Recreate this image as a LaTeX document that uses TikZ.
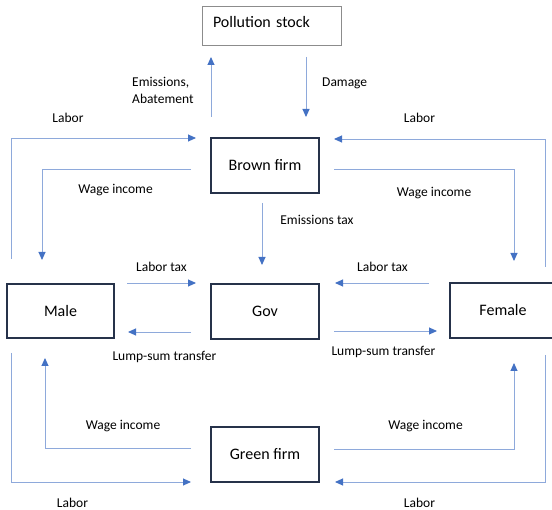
\documentclass[tikz,border=0pt]{standalone}
\usepackage{fontspec}
\setmainfont{Carlito}
\usetikzlibrary{arrows.meta}
\definecolor{linecol}{HTML}{8EA9DB}
\definecolor{tipcol}{HTML}{4472C4}
\definecolor{boxcol}{HTML}{26324A}
\definecolor{graybox}{HTML}{8C8C8C}
\tikzset{
  flow/.style={draw=linecol, line width=0.9pt, -{Triangle[length=8pt,width=7pt,color=tipcol]}},
  mainbox/.style={draw=boxcol, line width=1.4pt, minimum width=108pt, minimum height=55pt, inner sep=0pt, font=\fontsize{16}{19}\selectfont},
  pollbox/.style={draw=graybox, line width=0.8pt, minimum height=39pt, inner xsep=11pt, text width=117pt, text depth=7pt, align=left, font=\fontsize{16}{19}\selectfont},
  lbl/.style={inner sep=0pt, font=\fontsize{13.5}{17}\selectfont}
}
\begin{document}
\begin{tikzpicture}[x=1pt,y=-1pt]
\useasboundingbox (0,0) rectangle (552,510);
% boxes
\node[pollbox] (poll) at (271.5,25.5) {Pollution stock};
\node[mainbox] (brown) at (265,165.5) {Brown firm};
\node[mainbox] (gov) at (265,311.5) {Gov};
\node[mainbox] (green) at (265,454.5) {Green firm};
\node[mainbox, minimum width=107pt, minimum height=54pt] (male) at (60.5,311) {Male};
\node[mainbox, minimum width=106pt] (female) at (503,310.5) {Female};
% coordinates
\coordinate (emA) at (211,117); \coordinate (emB) at (211,57);
\coordinate (dmA) at (306,57); \coordinate (dmB) at (306,117);
\coordinate (ltlA) at (11,259); \coordinate (ltlB) at (196,138);
\coordinate (ltrA) at (545,267); \coordinate (ltrB) at (334,139);
\coordinate (wtlA) at (191,169); \coordinate (wtlB) at (42,260);
\coordinate (wtrA) at (334,169); \coordinate (wtrB) at (514,261);
\coordinate (etA) at (262,203); \coordinate (etB) at (262,265);
\coordinate (lxlA) at (127,283); \coordinate (lxlB) at (196,283);
\coordinate (lxrA) at (429,283); \coordinate (lxrB) at (335,283);
\coordinate (lslA) at (191,332); \coordinate (lslB) at (128,332);
\coordinate (lsrA) at (334,331); \coordinate (lsrB) at (437,331);
\coordinate (wblA) at (191,448); \coordinate (wblB) at (45,358);
\coordinate (wbrA) at (334,449); \coordinate (wbrB) at (514,363);
\coordinate (lblA) at (11,353); \coordinate (lblB) at (191,482);
\coordinate (lbrA) at (545,355); \coordinate (lbrB) at (335,482);
% connectors
\draw[flow] (emA) -- (emB);
\draw[flow] (dmA) -- (dmB);
\draw[flow] (ltlA) |- (ltlB);
\draw[flow] (ltrA) |- (ltrB);
\draw[flow] (wtlA) -| (wtlB);
\draw[flow] (wtrA) -| (wtrB);
\draw[flow] (etA) -- (etB);
\draw[flow] (lxlA) -- (lxlB);
\draw[flow] (lxrA) -- (lxrB);
\draw[flow] (lslA) -- (lslB);
\draw[flow] (lsrA) -- (lsrB);
\draw[flow] (wblA) -| (wblB);
\draw[flow] (wbrA) -| (wbrB);
\draw[flow] (lblA) |- (lblB);
\draw[flow] (lbrA) |- (lbrB);
% labels
\node[lbl, anchor=west, align=left] (tEm) at (132,90.5) {Emissions,\\Abatement};
\node[lbl, anchor=west] (tDm) at (322,83) {Damage};
\node[lbl] (tL1) at (68,118) {Labor};
\node[lbl] (tL2) at (419.5,118) {Labor};
\node[lbl] (tW1) at (115.5,190) {Wage income};
\node[lbl] (tW2) at (434,193) {Wage income};
\node[lbl] (tEt) at (317,220) {Emissions tax};
\node[lbl] (tLt1) at (161.5,267) {Labor tax};
\node[lbl] (tLt2) at (382.5,267) {Labor tax};
\node[lbl] (tLs1) at (164.5,357) {Lump-sum transfer};
\node[lbl] (tLs2) at (383.5,352) {Lump-sum transfer};
\node[lbl] (tW3) at (123,426) {Wage income};
\node[lbl] (tW4) at (425.5,426) {Wage income};
\node[lbl] (tL3) at (72.5,503) {Labor};
\node[lbl] (tL4) at (419.5,503) {Labor};
\end{tikzpicture}
\end{document}
